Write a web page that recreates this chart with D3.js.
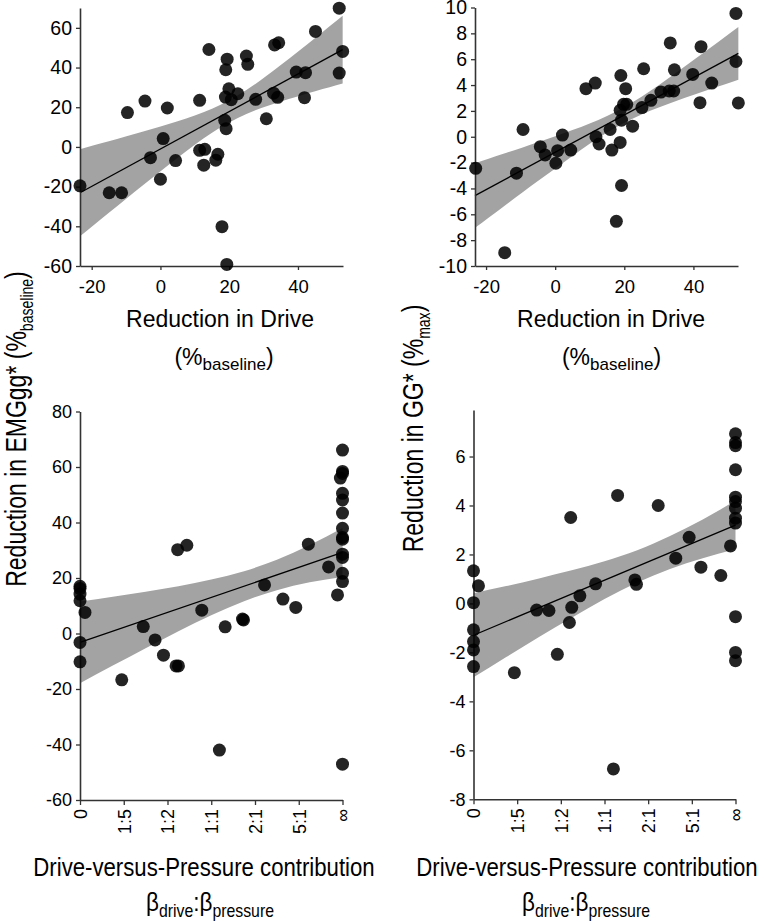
<!DOCTYPE html>
<html><head><meta charset="utf-8">
<script src="https://cdn.jsdelivr.net/npm/d3@7"></script>
<style>
body{margin:0;background:#fff}
text{font-family:"Liberation Sans",Arial,sans-serif;fill:#000}
</style>
</head><body>
<svg id="c" width="764" height="921"></svg>
<script>
// ---------- tick labels ----------
const driveTicks = [-20, 0, 20, 40];
const emgTopTicks = [-60, -40, -20, 0, 20, 40, 60];
const ggTopTicks = [-10, -8, -6, -4, -2, 0, 2, 4, 6, 8, 10];
const emgBottomTicks = [-60, -40, -20, 0, 20, 40, 60, 80];
const ggBottomTicks = [-8, -6, -4, -2, 0, 2, 4, 6];
const ratioTickVals = [0, 1/6, 2/6, 3/6, 4/6, 5/6, 1];
const ratioTickLabels = ["0", "1:5", "1:2", "1:1", "2:1", "5:1", "\u221E"];

// ---------- top-left: Reduction in Drive vs EMGgg ----------
const tlDrive = [-23.4,-14.9,-11.3,-9.6,-4.5,-2.9,0,0.8,2.0,4.4,11.4,11.4,12.9,12.6,14.1,16.1,16.7,17.9,18.7,19.1,18.9,19.0,19.4,19.3,19.9,20.6,22.5,25.0,25.4,27.7,30.8,33.2,34.4,32.9,34.1,39.5,42.2,41.9,45.1,52.0,53.0,52.0];
const tlEmg = [-19.6,-23.1,-23.1,17.3,23.1,-5.4,-16.3,4.2,19.6,-6.9,23.5,-1.7,-1.2,-9.2,49.1,-6.7,-3.7,-40.2,13.4,9.2,25.1,38.9,44.2,-59.2,29.3,23.8,26.8,45.8,41.6,24.0,14.2,51.4,52.5,27.1,25.0,37.7,37.4,24.8,58.2,69.9,48.1,37.2];
const tlFitX = [-23.4,-15,-5,5,15,25,35,45,53];
const tlFitLo = [-45.06,-33.17,-19.15,-5.46,7.14,16.58,22.86,28.05,31.95];
const tlFitHi = [-1.12,2.85,7.71,12.90,19.18,28.62,41.22,54.91,66.11];
const tlLineX = [-23.4, 53];
const tlLineY = [-23.1, 49.0];

// ---------- top-right: Reduction in Drive vs GG ----------
const trDrive = [-23.0,-14.6,-11.2,-9.3,-4.3,-2.9,0.2,0.7,2.1,4.5,8.9,11.6,11.8,12.7,15.9,16.4,17.7,18.8,18.8,19.0,19.2,19.2,19.8,20.4,20.7,22.4,25.1,25.6,27.7,30.6,33.0,33.3,34.3,34.5,39.8,41.9,42.2,45.3,52.3,52.3,53.0];
const trGG = [-2.44,-8.97,-2.82,0.56,-0.77,-1.41,-2.05,-1.08,0.13,-1.03,3.72,4.15,0,-0.56,0.56,-1.03,-6.54,-0.44,2.05,4.74,1.28,-3.77,2.51,3.72,2.51,0.82,2.26,5.26,2.82,3.46,3.54,7.26,3.54,5.18,4.82,2.64,6.97,4.15,9.54,5.82,2.62];
const trFitX = [-23.2,-15,-5,5,15,25,35,45,53];
const trFitLo = [-7.05,-5.41,-3.43,-1.48,0.32,1.72,2.76,3.69,4.41];
const trFitHi = [-2.05,-1.32,-0.42,0.52,1.61,3.10,4.95,6.91,8.50];
const trLineX = [-23.2, 53];
const trLineY = [-4.55, 6.45];

// ---------- bottom-left: drive:pressure ratio vs EMGgg ----------
const blRatio = [0,0,0,0,0.019,0,0,0.159,0.241,0.286,0.318,0.366,0.375,0.372,0.407,0.464,0.553,0.619,0.623,0.531,0.703,0.773,0.822,0.870,0.947,0.981,1,1,1,0.992,1,1,1,1,1,1,1,1,1,1,1];
const blEmg = [17.0,16.2,14.2,11.8,7.6,-3.2,-10.2,-16.7,2.5,-2.3,-7.8,-11.7,-11.7,30.2,31.8,8.4,2.4,5.2,4.9,-42.0,17.5,12.4,9.4,32.2,24.0,13.9,66.1,58.4,57.7,56.0,50.5,48.1,43.4,37.9,34.6,34.0,28.6,27.4,21.7,18.7,-47.1];
const blFitX = [0,0.125,0.25,0.375,0.5,0.625,0.75,0.875,1];
const blFitLo = [-17.9,-11.55,-5.28,0.83,6.57,11.64,15.61,18.45,20.4];
const blFitHi = [11.5,13.25,15.08,17.07,19.43,22.46,26.59,31.85,38.0];
const blLineX = [0, 1];
const blLineY = [-3.2, 29.2];

// ---------- bottom-right: drive:pressure ratio vs GG ----------
const brRatio = [0,0.019,0,0,0,0,0,0.156,0.241,0.288,0.320,0.366,0.375,0.371,0.406,0.466,0.550,0.616,0.622,0.534,0.705,0.772,0.823,0.868,0.944,0.981,1,1,1,1,1,1,1,1,1,1,1,1];
const brGG = [1.33,0.72,0.03,-1.08,-1.56,-1.90,-2.58,-2.83,-0.27,-0.29,-2.08,-0.78,-0.16,3.51,0.31,0.80,4.41,0.96,0.78,-6.76,4.0,1.85,2.70,1.48,1.14,2.35,6.93,6.57,6.44,5.46,4.34,4.16,3.89,3.48,3.28,-0.54,-2.0,-2.34];
const brFitX = [0,0.125,0.25,0.375,0.5,0.625,0.75,0.875,1];
const brFitLo = [-3.02,-2.19,-1.37,-0.58,0.18,0.85,1.41,1.85,2.21];
const brFitHi = [0.42,0.71,1.02,1.35,1.72,2.17,2.75,3.43,4.19];
const brLineX = [0, 1];
const brLineY = [-1.3, 3.2];

// ---------- drawing ----------
const svg = d3.select("#c");
const AX = "#333";

function panel(o) {
  const x = d3.scaleLinear().domain(o.xDomain).range([o.left, o.right]);
  const y = d3.scaleLinear().domain(o.yDomain).range([o.bottom, o.top]);
  const g = svg.append("g");
  const band = o.fitX.map((v, i) => ({x: v, lo: o.fitLo[i], hi: o.fitHi[i]}));
  g.append("path").datum(band)
    .attr("d", d3.area().x(d => x(d.x)).y0(d => y(d.lo)).y1(d => y(d.hi)).curve(d3.curveNatural))
    .attr("fill", "#a3a3a3");
  g.append("path").datum(o.lineX.map((v, i) => [v, o.lineY[i]]))
    .attr("d", d3.line().x(d => x(d[0])).y(d => y(d[1])))
    .attr("stroke", "#000").attr("stroke-width", 1.3).attr("fill", "none");

  const xa = g.append("g").attr("transform", `translate(0,${o.bottom})`)
    .call(d3.axisBottom(x).tickValues(o.xTicks).tickFormat(o.xFormat)
      .tickSize(o.xTickSize).tickSizeOuter(0).tickPadding(o.xPad));
  const ya = g.append("g").attr("transform", `translate(${o.left},0)`)
    .call(d3.axisLeft(y).tickValues(o.yTicks).tickFormat(d => String(d))
      .tickSize(4).tickSizeOuter(0).tickPadding(4));
  [xa, ya].forEach(a => {
    a.select(".domain").attr("stroke", AX).attr("stroke-width", 1.6);
    a.selectAll(".tick line").attr("stroke", AX).attr("stroke-width", 1.3);
    a.selectAll("text").attr("fill", "#000");
    a.attr("font-family", null);
  });
  xa.selectAll("text").style("font-size", o.xFont + "px");
  ya.selectAll("text").style("font-size", o.yFont + "px");
  if (o.rotate) {
    xa.selectAll("text")
      .attr("transform", "rotate(-90)").attr("text-anchor", "end")
      .attr("x", -9).attr("y", 0).attr("dy", "0.36em");
  }
  g.append("g").selectAll("circle").data(o.xs.map((v, i) => [v, o.ys[i]])).join("circle")
    .attr("cx", d => x(d[0])).attr("cy", d => y(d[1])).attr("r", 6.5)
    .attr("fill", "#000").attr("fill-opacity", 0.86);
}

const num = d => String(d);
panel({xDomain: [-23.4, 53.1], yDomain: [-60, 70], left: 80, right: 343, top: 8, bottom: 266,
  xTicks: driveTicks, xFormat: num, xTickSize: 4, xPad: 10, yTicks: emgTopTicks, xFont: 18.5, yFont: 19.5,
  fitX: tlFitX, fitLo: tlFitLo, fitHi: tlFitHi, lineX: tlLineX, lineY: tlLineY, xs: tlDrive, ys: tlEmg});
panel({xDomain: [-23.2, 52.9], yDomain: [-10, 10], left: 475, right: 738, top: 7.5, bottom: 266,
  xTicks: driveTicks, xFormat: num, xTickSize: 4, xPad: 10, yTicks: ggTopTicks, xFont: 18.5, yFont: 19.5,
  fitX: trFitX, fitLo: trFitLo, fitHi: trFitHi, lineX: trLineX, lineY: trLineY, xs: trDrive, ys: trGG});
panel({xDomain: [0, 1], yDomain: [-60, 80], left: 80, right: 342.5, top: 411.5, bottom: 800,
  xTicks: ratioTickVals, xFormat: (d, i) => ratioTickLabels[i], xTickSize: 5, xPad: 4, rotate: true,
  yTicks: emgBottomTicks, xFont: 18, yFont: 18,
  fitX: blFitX, fitLo: blFitLo, fitHi: blFitHi, lineX: blLineX, lineY: blLineY, xs: blRatio, ys: blEmg});
panel({xDomain: [0, 1], yDomain: [-8, 7.9], left: 473.5, right: 735.5, top: 410, bottom: 799.3,
  xTicks: ratioTickVals, xFormat: (d, i) => ratioTickLabels[i], xTickSize: 5, xPad: 4, rotate: true,
  yTicks: ggBottomTicks, xFont: 18, yFont: 18,
  fitX: brFitX, fitLo: brFitLo, fitHi: brFitHi, lineX: brLineX, lineY: brLineY, xs: brRatio, ys: brGG});

// ---------- titles ----------
function title(parent, parts, size, subSize, shift) {
  const t = parent.append("text").attr("text-anchor", "middle").style("font-size", size + "px");
  parts.forEach(p => {
    const s = t.append("tspan").text(p.t);
    if (p.sub) s.style("font-size", subSize + "px").attr("dy", shift);
    else if (p.back) s.attr("dy", -shift);
  });
  return t;
}
// y titles
const yl = svg.append("g").attr("transform", "translate(25.5,429) rotate(-90) scale(0.78,1)");
title(yl, [{t: "Reduction in EMGgg* (%"}, {t: "baseline", sub: true}, {t: ")", back: true}], 29.5, 18, 7);
const yr = svg.append("g").attr("transform", "translate(423,428.5) rotate(-90) scale(0.78,1)");
title(yr, [{t: "Reduction in GG* (%"}, {t: "max", sub: true}, {t: ")", back: true}], 29.5, 18, 7);

// top x titles
[[220, 224], [611, 611.5]].forEach(c => {
  title(svg.append("g").attr("transform", `translate(${c[0]},327)`), [{t: "Reduction in Drive"}], 23, 17, 5);
  title(svg.append("g").attr("transform", `translate(${c[1]},365)`), [{t: "(%"}, {t: "baseline", sub: true}, {t: ")", back: true}], 23, 17, 5);
});
// bottom x titles
[[204, 210], [587, 586]].forEach(c => {
  title(svg.append("g").attr("transform", `translate(${c[0]},876) scale(0.87,1)`), [{t: "Drive-versus-Pressure contribution"}], 25.5, 17, 5);
  title(svg.append("g").attr("transform", `translate(${c[1]},911) scale(0.88,1)`),
    [{t: "\u03B2"}, {t: "drive", sub: true}, {t: ":\u03B2", back: true}, {t: "pressure", sub: true}], 25.5, 18, 6);
});
</script>
</body></html>
